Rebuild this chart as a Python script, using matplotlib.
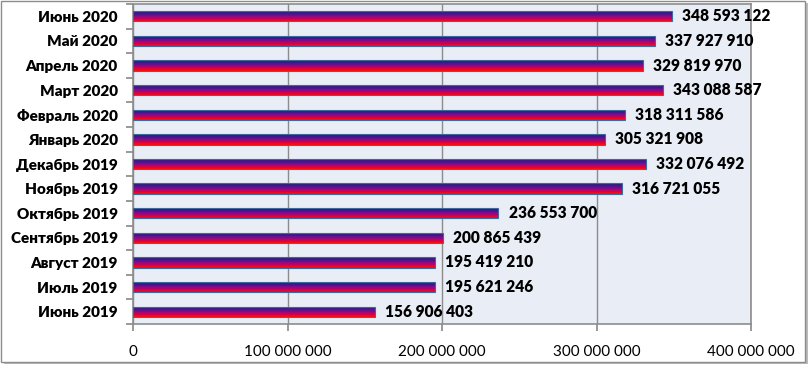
import numpy as np
import matplotlib
matplotlib.use('Agg')
import matplotlib.pyplot as plt
from matplotlib.colors import LinearSegmentedColormap
from matplotlib.patches import Rectangle

# Data (bottom to top as drawn)
months = ['Июнь 2019', 'Июль 2019', 'Август 2019', 'Сентябрь 2019', 'Октябрь 2019',
          'Ноябрь 2019', 'Декабрь 2019', 'Январь 2020', 'Февраль 2020', 'Март 2020',
          'Апрель 2020', 'Май 2020', 'Июнь 2020']
values = [156906403, 195621246, 195419210, 200865439, 236553700,
          316721055, 332076492, 305321908, 318311586, 343088587,
          329819970, 337927910, 348593122]
x_ticks = [0, 100000000, 200000000, 300000000, 400000000]


def fmt(v):
    return '{:,}'.format(v).replace(',', ' ')


fig = plt.figure(figsize=(8.1, 3.67), dpi=100)
ax = fig.add_axes([133 / 810, 1 - 324 / 367, (751 - 133) / 810, (324 - 4) / 367])
ax.set_facecolor('#E9EDF6')

# gradient: dark blue at top, through purple, to red at bottom
cmap = LinearSegmentedColormap.from_list('grad', ['#FF0A0A', '#D0004A', '#8A0A8A', '#48148C', '#2A2080'])
bar_h = 0.42
n_strips = 14
y = np.arange(len(months))
for i in range(n_strips):
    off = -bar_h / 2 + i * bar_h / n_strips
    ax.barh(y + off, values, height=bar_h / n_strips, align='edge',
            color=cmap(i / (n_strips - 1)), linewidth=0, zorder=3)
for yi, v in zip(y, values):
    ax.add_patch(Rectangle((0, yi - bar_h / 2), v, bar_h, fill=False,
                           edgecolor='#3D6A9E', linewidth=0.8, zorder=4))
    ax.text(v + 6.5e6, yi, fmt(v), va='center', ha='left', fontsize=11.2,
            fontweight='heavy', family='Lato', color='black', zorder=5)

ax.set_xlim(0, 400000000)
ax.set_ylim(-0.5, len(months) - 0.5)
ax.set_xticks(x_ticks)
ax.set_xticklabels([fmt(t) for t in x_ticks], family='Lato', fontsize=11)
ax.set_yticks(y)
ax.set_yticklabels(months, family='Lato', fontsize=11, fontweight='heavy')
ax.set_yticks(np.arange(len(months) + 1) - 0.5, minor=True)
ax.tick_params(axis='y', which='major', length=0, pad=11)
ax.tick_params(axis='y', which='minor', length=5, color='#888888', width=1.2)
ax.tick_params(axis='x', length=5, color='#888888', width=1.2, pad=10)
ax.grid(axis='x', color='#8C8C8C', linewidth=1, zorder=1)
for s in ['left', 'bottom', 'top', 'right']:
    ax.spines[s].set_color('#8C8C8C')
    ax.spines[s].set_linewidth(1.2)

# outer frame with a little shadow
fig.patches.append(Rectangle((4 / 810, 1 - 364 / 367), 804 / 810, 361 / 367,
                             transform=fig.transFigure, facecolor='#BBBBBB',
                             edgecolor='none', zorder=-2))
fig.patches.append(Rectangle((1 / 810, 1 - 362 / 367), 804 / 810, 361 / 367,
                             transform=fig.transFigure, facecolor='white',
                             edgecolor='#8C8C8C', linewidth=1, zorder=-1))

fig.savefig('out.png', dpi=100)
